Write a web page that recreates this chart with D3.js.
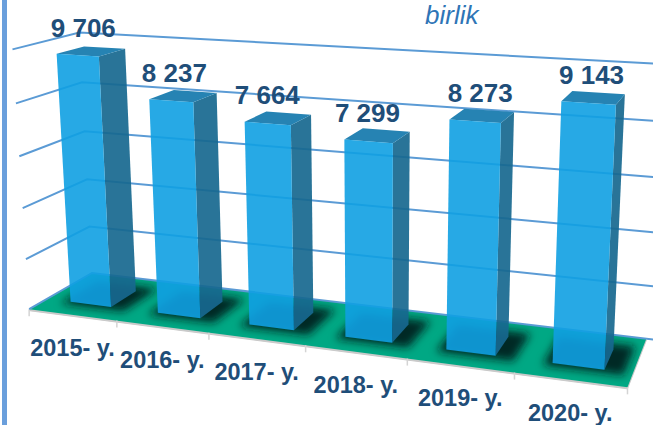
<!DOCTYPE html>
<html>
<head>
<meta charset="utf-8">
<script src="https://cdn.jsdelivr.net/npm/d3@7"></script>
<style>
  html, body { margin: 0; padding: 0; background: #fff; overflow: hidden; }
  text { font-family: "Liberation Sans", Arial, sans-serif; }
</style>
</head>
<body>
<script>
// data
var years = ["2015- y.", "2016- y.", "2017- y.", "2018- y.", "2019- y.", "2020- y."];
var values = [9706, 8237, 7664, 7299, 8273, 9143];
var valueLabels = ["9 706", "8 237", "7 664", "7 299", "8 273", "9 143"];
var gridValues = [0, 2000, 4000, 6000, 8000, 10000];
var unitLabel = "birlik";

var w = 653, h = 425;

// scales run in chart space, the camera below turns them into screen space
var xScale = d3.scaleBand().domain(years).range([0.002, 1.002]).paddingInner(0.53).paddingOuter(0.265);
var xStep = d3.scaleBand().domain(years).range([0, 1]);
var yScale = d3.scaleLinear().domain([0, 10000]).range([0, 1]);
var zBar = [0.27, 0.69]; // depth of the bars on the floor

// where the corners of the chart box land on screen [x,y,z, sx,sy]
var corners = [
  [0,0,0, 29,309], [1,0,0, 628,386], [0,0,1, 92,273], [1,0,1, 646,340],
  [0,1,0, 12,49],  [1,1,0, 642,89],  [0,1,1, 80,33],  [1,1,1, 660,62]
];

// least squares for the 3x4 camera
function solveCamera(pts) {
  var n = 11, A = d3.range(n).map(function() { return d3.range(n + 1).map(function() { return 0; }); });
  function add(row, t) {
    for (var i = 0; i < n; i++) {
      for (var j = 0; j < n; j++) A[i][j] += row[i] * row[j];
      A[i][n] += row[i] * t;
    }
  }
  pts.forEach(function(p) {
    add([p[0], p[1], p[2], 1, 0, 0, 0, 0, -p[3] * p[0], -p[3] * p[1], -p[3] * p[2]], p[3]);
    add([0, 0, 0, 0, p[0], p[1], p[2], 1, -p[4] * p[0], -p[4] * p[1], -p[4] * p[2]], p[4]);
  });
  for (var c = 0; c < n; c++) {
    var best = c;
    for (var r = c + 1; r < n; r++) if (Math.abs(A[r][c]) > Math.abs(A[best][c])) best = r;
    var tmp = A[c]; A[c] = A[best]; A[best] = tmp;
    for (var r2 = 0; r2 < n; r2++) {
      if (r2 === c) continue;
      var f = A[r2][c] / A[c][c];
      for (var k = c; k <= n; k++) A[r2][k] -= f * A[c][k];
    }
  }
  return A.map(function(row, i) { return row[n] / row[i]; });
}
var P = solveCamera(corners);

function project(x, y, z) {
  var d = P[8] * x + P[9] * y + P[10] * z + 1;
  return [(P[0] * x + P[1] * y + P[2] * z + P[3]) / d,
          (P[4] * x + P[5] * y + P[6] * z + P[7]) / d];
}
function poly(pts) {
  return pts.map(function(p) { return project(p[0], p[1], p[2]).join(","); }).join(" ");
}

var svg = d3.select("body").append("svg")
  .attr("width", w)
  .attr("height", h)
  .style("display", "block");

var defs = svg.append("defs");
defs.append("filter").attr("id", "blur")
  .attr("x", "-40%").attr("y", "-40%").attr("width", "180%").attr("height", "180%")
  .append("feGaussianBlur").attr("stdDeviation", 4);
defs.append("clipPath").attr("id", "floorClip")
  .append("polygon").attr("points", poly([[0,0,0],[1,0,0],[1,0,1],[0,0,1]]));

// frame line on the left
svg.append("rect").attr("x", 2).attr("y", 0).attr("width", 5).attr("height", h).attr("fill", "#6a9fdc");

// floor edge and floor
svg.append("polygon")
  .attr("points", poly([[0,0,0],[1,0,0],[1,0,1],[0,0,1]]))
  .attr("fill", "#c9c9c9")
  .attr("stroke", "#c9c9c9")
  .attr("stroke-width", 1)
  .attr("transform", "translate(0,1.5)");
svg.append("polygon")
  .attr("points", poly([[0,0,0],[1,0,0],[1,0,1],[0,0,1]]))
  .attr("fill", "#00a884");

// ticks on the front edge
var tickPos = d3.range(years.length + 1).map(function(i) { return i === years.length ? 1 : xStep(years[i]); });
svg.selectAll("line.tick").data(tickPos).enter().append("line")
  .attr("class", "tick")
  .attr("x1", function(d) { return project(d, 0, 0)[0]; })
  .attr("y1", function(d) { return project(d, 0, 0)[1]; })
  .attr("x2", function(d) { return project(d, 0, 0)[0]; })
  .attr("y2", function(d) { return project(d, 0, 0)[1] + 7; })
  .attr("stroke", "#d4d4d4")
  .attr("stroke-width", 1.5);

// gridlines, left wall and back wall
svg.selectAll("polyline.grid").data(gridValues).enter().append("polyline")
  .attr("class", "grid")
  .attr("points", function(d) { return poly([[0, yScale(d), 0], [0, yScale(d), 1], [1.02, yScale(d), 1]]); })
  .attr("fill", "none")
  .attr("stroke", "#5b9bd5")
  .attr("stroke-width", 2);

// shadows under the bars
svg.append("g").attr("clip-path", "url(#floorClip)")
  .selectAll("polygon").data(years).enter().append("polygon")
  .attr("points", function(d) {
    var a = xScale(d) - 0.012, b = xScale(d) + xScale.bandwidth() + 0.03;
    return poly([[a, 0, zBar[0] - 0.06], [b, 0, zBar[0] - 0.06], [b, 0, zBar[1] + 0.12], [a, 0, zBar[1] + 0.12]]);
  })
  .attr("fill", "#001a14")
  .attr("fill-opacity", 0.88)
  .attr("filter", "url(#blur)");

// bars
var bars = svg.selectAll("g.bar").data(years).enter().append("g").attr("class", "bar");
bars.append("polygon") // side
  .attr("points", function(d, i) {
    var x = xScale(d) + xScale.bandwidth(), y = yScale(values[i]);
    return poly([[x, 0, zBar[0]], [x, 0, zBar[1]], [x, y, zBar[1]], [x, y, zBar[0]]]);
  })
  .attr("fill", "#17688f")
  .attr("fill-opacity", 0.92);
bars.append("polygon") // top
  .attr("points", function(d, i) {
    var a = xScale(d), b = a + xScale.bandwidth(), y = yScale(values[i]);
    return poly([[a, y, zBar[0]], [b, y, zBar[0]], [b, y, zBar[1]], [a, y, zBar[1]]]);
  })
  .attr("fill", "#2683b3");
bars.append("polygon") // front
  .attr("points", function(d, i) {
    var a = xScale(d), b = a + xScale.bandwidth(), y = yScale(values[i]);
    return poly([[a, 0, zBar[0]], [b, 0, zBar[0]], [b, y, zBar[0]], [a, y, zBar[0]]]);
  })
  .attr("fill", "#10a0e2")
  .attr("fill-opacity", 0.9);

// value labels
var labelDx = [-8, -9, -11, -10, -2, -2];
svg.selectAll("text.value").data(valueLabels).enter().append("text")
  .attr("class", "value")
  .attr("x", function(d, i) {
    var c = xScale(years[i]) + xScale.bandwidth() / 2;
    return project(c, yScale(values[i]), (zBar[0] + zBar[1]) / 2)[0] + labelDx[i];
  })
  .attr("y", function(d, i) {
    var c = xScale(years[i]) + xScale.bandwidth() / 2;
    return project(c, yScale(values[i]), (zBar[0] + zBar[1]) / 2)[1] - 14;
  })
  .attr("text-anchor", "middle")
  .attr("font-size", 26)
  .attr("font-weight", "bold")
  .attr("fill", "#1f4e79")
  .text(function(d) { return d; });

// category labels
svg.selectAll("text.year").data(years).enter().append("text")
  .attr("class", "year")
  .attr("x", function(d) { return project(xStep(d) + xStep.bandwidth() / 2, 0, 0)[0]; })
  .attr("y", function(d) { return project(xStep(d) + xStep.bandwidth() / 2, 0, 0)[1] + 41; })
  .attr("text-anchor", "middle")
  .attr("font-size", 23.5)
  .attr("font-weight", "bold")
  .attr("fill", "#1f4e79")
  .text(function(d) { return d; });

svg.append("text")
  .attr("x", 425)
  .attr("y", 24)
  .attr("font-size", 26)
  .attr("font-style", "italic")
  .attr("fill", "#2e75b6")
  .text(unitLabel);
</script>
</body>
</html>
